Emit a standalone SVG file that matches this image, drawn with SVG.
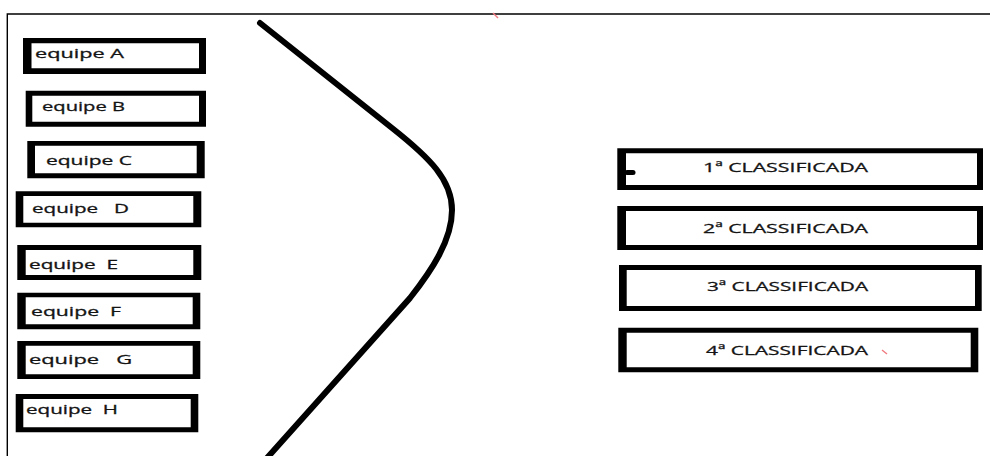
<svg xmlns="http://www.w3.org/2000/svg" width="990" height="456" viewBox="0 0 990 456">
<style>
.box{fill:#000;fill-rule:evenodd}
.lbl{font-family:"Open Sans","Noto Sans","Liberation Sans",sans-serif;font-size:13.5px;fill:#141414;stroke:#141414;stroke-width:0.3;white-space:pre}
.frame{stroke:#000;stroke-width:1.4;fill:none}
.curve{stroke:#000;stroke-width:6;fill:none;stroke-linecap:round}
.red{stroke:#f07a80;stroke-width:1.4;fill:none}
</style>
<rect width="990" height="456" fill="#fff"/>
<path class="frame" d="M7.3,456 V14 H990"/>
<g id="connectors">
<path class="curve" d="M260,23 L392,128 C430,158 452,180 452,210 C452,240 432,270 410,298 L267,458"/>
</g>
<g id="equipeA"><path class="box" d="M23,38H206V74H23Z M31.5,43.3V68.3H199V43.3Z"/><text class="lbl" x="35" y="58" textLength="89" lengthAdjust="spacingAndGlyphs">equipe A</text></g>
<g id="equipeB"><path class="box" d="M25.7,90.7H206V126.7H25.7Z M32.3,95.7V121.7H199V95.7Z"/><text class="lbl" x="42" y="111" textLength="83" lengthAdjust="spacingAndGlyphs">equipe B</text></g>
<g id="equipeC"><path class="box" d="M27.3,141H204.7V178.3H27.3Z M35,145.7V173.3H196.7V145.7Z"/><text class="lbl" x="46" y="165" textLength="86" lengthAdjust="spacingAndGlyphs">equipe C</text></g>
<g id="equipeD"><path class="box" d="M15.7,191.3H201.3V227.3H15.7Z M23.3,196V222.7H193.3V196Z"/><text class="lbl" x="32" y="213" textLength="97" lengthAdjust="spacingAndGlyphs">equipe   D</text></g>
<g id="equipeE"><path class="box" d="M17.3,245H201.3V280H17.3Z M25.7,250V275H193.3V250Z"/><text class="lbl" x="29" y="269" textLength="89" lengthAdjust="spacingAndGlyphs">equipe  E</text></g>
<g id="equipeF"><path class="box" d="M17.3,292.7H200.3V329.3H17.3Z M25.7,297.3V324.3H192.7V297.3Z"/><text class="lbl" x="31" y="316" textLength="90" lengthAdjust="spacingAndGlyphs">equipe  F</text></g>
<g id="equipeG"><path class="box" d="M17.3,341H200.3V379H17.3Z M25.7,345.7V374.3H192.7V345.7Z"/><text class="lbl" x="29" y="364" textLength="103" lengthAdjust="spacingAndGlyphs">equipe   G</text></g>
<g id="equipeH"><path class="box" d="M15.7,394H198.3V432.3H15.7Z M23.3,399V427.3H190.7V399Z"/><text class="lbl" x="26" y="414" textLength="92" lengthAdjust="spacingAndGlyphs">equipe  H</text></g>
<g id="class1"><path class="box" d="M617.3,148.3H983V190H617.3Z M626,153.3V185H977V153.3Z"/><line x1="627" y1="172.5" x2="633" y2="172.5" stroke="#000" stroke-width="5" stroke-linecap="round"/><text class="lbl" x="703" y="172" textLength="165" lengthAdjust="spacingAndGlyphs">1ª CLASSIFICADA</text></g>
<g id="class2"><path class="box" d="M617.3,206H983V250H617.3Z M626,211V245H977V211Z"/><text class="lbl" x="703" y="232.5" textLength="165" lengthAdjust="spacingAndGlyphs">2ª CLASSIFICADA</text></g>
<g id="class3"><path class="box" d="M619,265H981.7V311H619Z M626.7,270V306H975V270Z"/><text class="lbl" x="707" y="291" textLength="161" lengthAdjust="spacingAndGlyphs">3ª CLASSIFICADA</text></g>
<g id="class4"><path class="box" d="M618.3,327.7H978.3V372.3H618.3Z M626.7,332.7V367.3H970.7V332.7Z"/><text class="lbl" x="706" y="355" textLength="162" lengthAdjust="spacingAndGlyphs">4ª CLASSIFICADA</text></g>
<path class="red" d="M493,13 L498,18"/>
<path class="red" d="M882,350 L887,354"/>
</svg>
